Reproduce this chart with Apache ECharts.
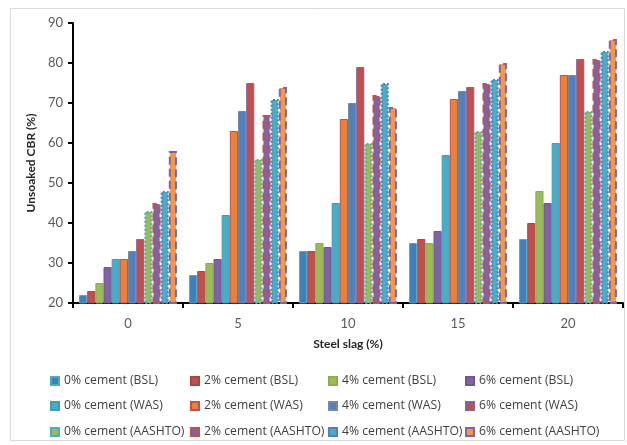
<!DOCTYPE html>
<html>
<head>
<meta charset="utf-8">
<script src="https://cdn.jsdelivr.net/npm/echarts@6/dist/echarts.min.js"></script>
<style>
  html, body { margin: 0; padding: 0; background: #ffffff; }
  #chart { width: 627px; height: 445px; }
</style>
</head>
<body>
<div id="chart"></div>
<script>
// Steel slag content (%) on the category axis
const categories = ['0', '5', '10', '15', '20'];

// Unsoaked CBR (%) per compaction energy and cement content
const bsl0 = [22, 27, 33, 35, 36];
const bsl2 = [23, 28, 33, 36, 40];
const bsl4 = [25, 30, 35, 35, 48];
const bsl6 = [29, 31, 34, 38, 45];
const was0 = [31, 42, 45, 57, 60];
const was2 = [31, 63, 66, 71, 77];
const was4 = [33, 68, 70, 73, 77];
const was6 = [36, 75, 79, 74, 81];
const aas0 = [43, 56, 60, 63, 68];
const aas2 = [45, 67, 72, 75, 81];
const aas4 = [48, 71, 75, 76, 83];
const aas6 = [58, 74, 69, 80, 86];

const seriesNames = [
  '0% cement (BSL)', '2% cement (BSL)', '4% cement (BSL)', '6% cement (BSL)',
  '0% cement (WAS)', '2% cement (WAS)', '4% cement (WAS)', '6% cement (WAS)',
  '0% cement (AASHTO)', '2% cement (AASHTO)', '4% cement (AASHTO)', '6% cement (AASHTO)'
];
const seriesValues = [bsl0, bsl2, bsl4, bsl6, was0, was2, was4, was6, aas0, aas2, aas4, aas6];

// fill, outline, outline type, outline width
const barStyles = [
  ['#3F80BC', '#4BACC6', 'solid', 1],
  ['#C0504D', '#B0443F', 'solid', 1],
  ['#9BBB59', '#8CAD4B', 'solid', 1],
  ['#8064A2', '#705494', 'solid', 1],
  ['#4BACC6', '#3E9DB6', 'solid', 1],
  ['#EA8135', '#C0504D', 'solid', 1],
  ['#4F81BD', '#7A86A0', 'solid', 1],
  ['#C0504D', '#8064A2', 'solid', 1],
  ['#9BBB59', '#4BACC6', 'dotted', 2],
  ['#8064A2', '#C0504D', 'dashed', 2],
  ['#4BACC6', '#4F81BD', 'dotted', 2],
  ['#F79646', '#8064A2', 'dashed', 2]
];

const chart = echarts.init(document.getElementById('chart'), null, { renderer: 'canvas' });

const legendCols = [50, 190, 328, 465];
const legendRows = [375, 400, 426];

const legends = seriesNames.map((name, i) => ({
  data: [name],
  left: legendCols[i % 4],
  top: legendRows[Math.floor(i / 4)],
  padding: 0,
  itemWidth: 8,
  itemHeight: 8,
  icon: 'rect',
  selectedMode: false,
  textStyle: { fontFamily: 'Open Sans', fontSize: 12.2, color: '#404040' }
}));

const series = seriesNames.map((name, i) => ({
  name: name,
  type: 'bar',
  data: seriesValues[i],
  barGap: '0%',
  barCategoryGap: '11%',
  itemStyle: {
    color: barStyles[i][0],
    borderColor: barStyles[i][1],
    borderType: barStyles[i][2],
    borderWidth: barStyles[i][3]
  },
  emphasis: { disabled: true }
}));

chart.setOption({
  animation: false,
  backgroundColor: '#ffffff',
  graphic: [{
    type: 'rect',
    shape: { x: 10.5, y: 8.5, width: 614, height: 432 },
    style: { fill: 'none', stroke: '#D9D9D9', lineWidth: 1 },
    silent: true,
    z: -10
  }],
  legend: legends,
  grid: { left: 73, right: 4, top: 23, bottom: 142 },
  xAxis: {
    type: 'category',
    data: categories,
    name: 'Steel slag (%)',
    nameLocation: 'middle',
    nameGap: 35,
    nameTextStyle: { fontFamily: 'Lato', fontWeight: 'bold', fontSize: 12, color: '#262626' },
    axisLine: { lineStyle: { color: '#000000', width: 2 } },
    axisTick: { show: true, alignWithLabel: false, length: 5, lineStyle: { color: '#000000', width: 2 } },
    axisLabel: { fontFamily: 'Lato', fontSize: 13, color: '#595959', margin: 14 }
  },
  yAxis: {
    type: 'value',
    min: 20,
    max: 90,
    interval: 10,
    name: 'Unsoaked CBR (%)',
    nameLocation: 'middle',
    nameGap: 35,
    nameTextStyle: { fontFamily: 'Lato', fontWeight: 'bold', fontSize: 12, color: '#262626' },
    axisLine: { show: true, lineStyle: { color: '#000000', width: 2 } },
    axisTick: { show: true, length: 5, lineStyle: { color: '#000000', width: 2 } },
    splitLine: { show: false },
    axisLabel: { fontFamily: 'Lato', fontSize: 13, color: '#595959', margin: 10 }
  },
  series: series
});
</script>
</body>
</html>
